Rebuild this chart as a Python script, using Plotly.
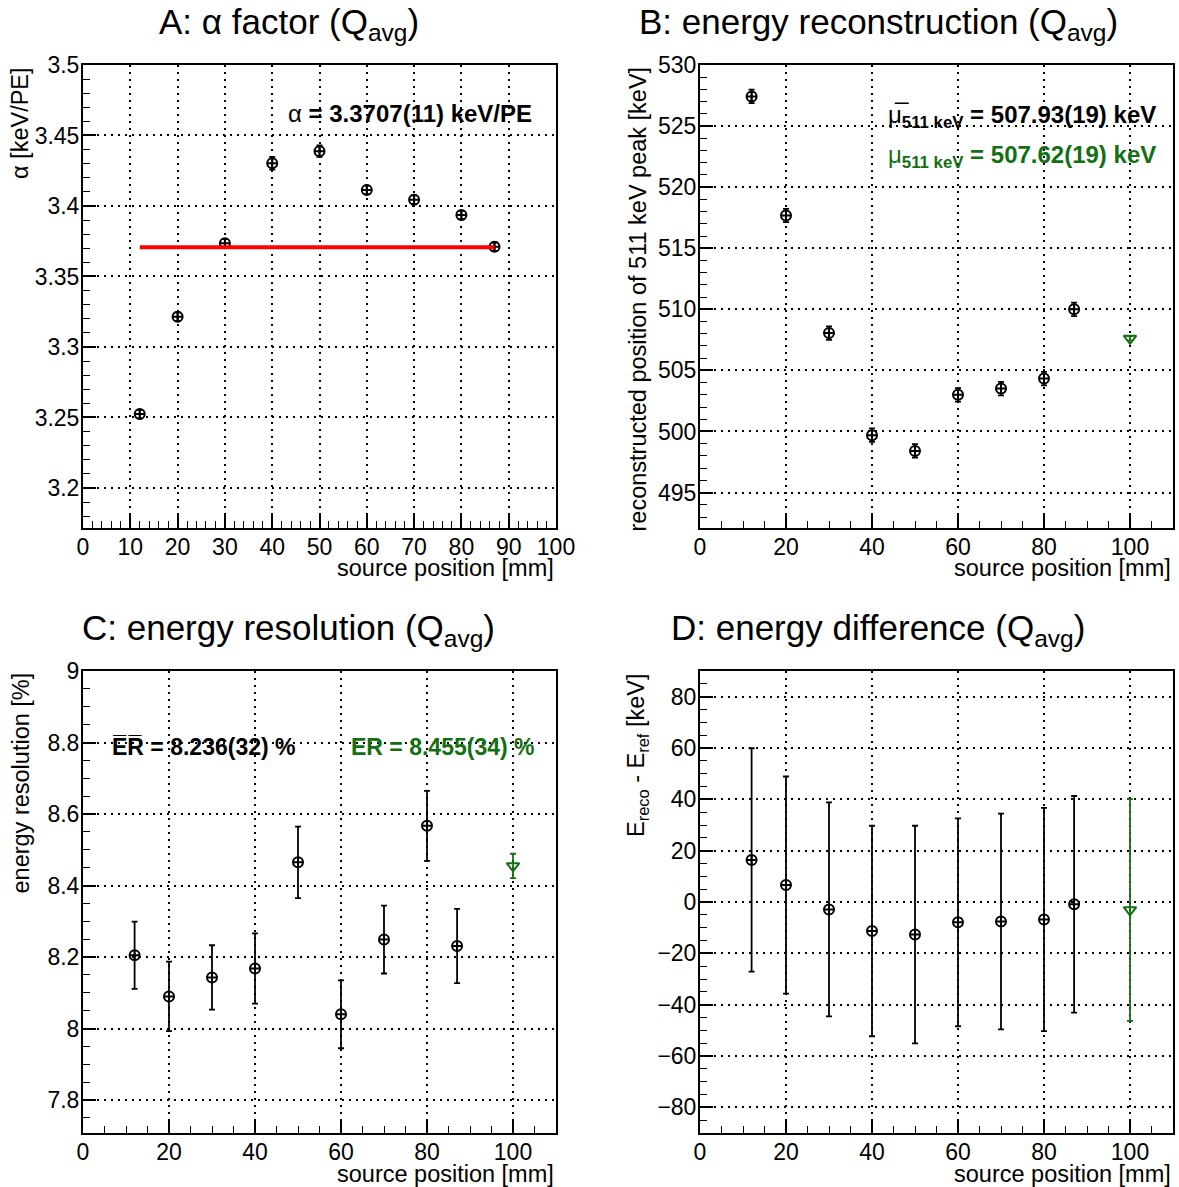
import plotly.graph_objects as go

# ---------------- data ----------------
pos = [12, 20, 30, 40, 50, 60, 70, 80, 87]

alpha = [3.2524, 3.3215, 3.3735, 3.4303, 3.4389, 3.4114, 3.4045, 3.3936, 3.3711]
alpha_err = [0.003, 0.003, 0.003, 0.0045, 0.004, 0.003, 0.003, 0.003, 0.003]
alpha_fit = 3.3707
fit_range = [12, 87]

peak = [527.43, 517.68, 508.06, 499.70, 498.41, 503.00, 503.51, 504.33, 510.00]
peak_err = [0.55, 0.55, 0.55, 0.55, 0.55, 0.55, 0.55, 0.55, 0.55]

ref_pos = [100]
peak_ref = [507.62]
peak_ref_err = [0.19]

res = [8.205, 8.090, 8.143, 8.168, 8.465, 8.040, 8.249, 8.567, 8.231]
res_err = [0.094, 0.097, 0.090, 0.098, 0.100, 0.095, 0.095, 0.098, 0.104]
res_ref = [8.455]
res_ref_err = [0.034]

diff = [16.4, 6.6, -2.9, -11.3, -12.7, -7.9, -7.6, -6.8, -0.9]
diff_err = [43.5, 42.3, 41.7, 41.0, 42.4, 40.5, 42.0, 43.5, 42.2]
diff_ref = [-3.1]
diff_ref_err = [43.2]

# ---------------- style ----------------
W, H = 1179, 1187
FONT = "Liberation Sans, Arial, Helvetica, sans-serif"
GREEN = "#127012"
BLACK = "#000000"


def px_x(p):
    return p / W


def px_y(p):
    return 1 - p / H


fig = go.Figure()


def data_trace(x, y, err, axis, color=BLACK, symbol="circle-cross-open", size=10):
    fig.add_trace(go.Scatter(
        x=x, y=y, mode="markers", xaxis="x" + axis, yaxis="y" + axis,
        marker=dict(symbol=symbol, size=size, color=color,
                    line=dict(color=color, width=2)),
        error_y=dict(type="data", array=err, visible=True, color=color,
                     thickness=1.8, width=3),
        showlegend=False, hoverinfo="x+y",
    ))


# A
data_trace(pos, alpha, alpha_err, "")
fig.add_trace(go.Scatter(x=fit_range, y=[alpha_fit, alpha_fit], mode="lines",
                         line=dict(color="#ff0000", width=4), showlegend=False,
                         xaxis="x", yaxis="y"))
# B
data_trace(pos, peak, peak_err, "2")
data_trace(ref_pos, peak_ref, peak_ref_err, "2", color=GREEN, symbol="triangle-down-open", size=11)
# C
data_trace(pos, res, res_err, "3")
data_trace(ref_pos, res_ref, res_ref_err, "3", color=GREEN, symbol="triangle-down-open", size=11)
# D
data_trace(pos, diff, diff_err, "4")
data_trace(ref_pos, diff_ref, diff_ref_err, "4", color=GREEN, symbol="triangle-down-open", size=11)

# domains
xl = [px_x(83), px_x(556)]
xr = [px_x(700), px_x(1173)]
yt = [px_y(528), px_y(65)]
yb = [px_y(1133), px_y(671)]


def xaxis(domain, anchor, rng, dtick, mdtick):
    return dict(domain=domain, anchor=anchor, range=rng, dtick=dtick, tick0=0,
                automargin=False, ticklabelstandoff=-3,
                showline=True, linecolor=BLACK, linewidth=2, mirror=True,
                ticks="inside", ticklen=13, tickwidth=1.5, tickcolor=BLACK,
                minor=dict(ticks="inside", ticklen=7, dtick=mdtick, tickwidth=1.2,
                           tickcolor=BLACK, showgrid=False),
                showgrid=True, gridcolor=BLACK, gridwidth=1.6, griddash="2px,5px",
                zeroline=False, tickfont=dict(family=FONT, size=23, color=BLACK),
                fixedrange=True)


def yaxis(domain, anchor, rng, dtick, tick0, mdtick):
    d = xaxis(domain, anchor, rng, dtick, mdtick)
    d["tick0"] = tick0
    return d


fig.update_layout(
    width=W, height=H,
    margin=dict(l=0, r=0, t=0, b=0, pad=0),
    paper_bgcolor="white", plot_bgcolor="white",
    font=dict(family=FONT, color=BLACK),
    xaxis=xaxis(xl, "y", [0, 100], 10, 2),
    yaxis=yaxis(yt, "x", [3.1716, 3.5], 0.05, 3.2, 0.01),
    xaxis2=xaxis(xr, "y2", [0, 110], 20, 5),
    yaxis2=yaxis(yt, "x2", [492.1, 530], 5, 495, 1),
    xaxis3=xaxis(xl, "y3", [0, 110], 20, 5),
    yaxis3=yaxis(yb, "x3", [7.708, 9], 0.2, 7.8, 0.05),
    xaxis4=xaxis(xr, "y4", [0, 110], 20, 5),
    yaxis4=yaxis(yb, "x4", [-90, 90], 20, 0, 5),
)

ann = []


def text(x, y, s, size=23, xa="center", ya="middle", color=BLACK, angle=0):
    ann.append(dict(x=x, y=y, xref="paper", yref="paper", text=s, showarrow=False,
                    xanchor=xa, yanchor=ya, textangle=angle,
                    font=dict(family=FONT, size=size, color=color)))


# titles
TS = 35
text(0.245, px_y(24), "A: α factor (Q<sub>avg</sub>)", size=TS)
text(0.745, px_y(24), "B: energy reconstruction (Q<sub>avg</sub>)", size=TS)
text(0.245, px_y(630), "C: energy resolution (Q<sub>avg</sub>)", size=TS)
text(0.745, px_y(630), "D: energy difference (Q<sub>avg</sub>)", size=TS)

# x titles
for xx, yy in [(556, 568), (1173, 568), (556, 1174), (1173, 1174)]:
    text(px_x(xx), px_y(yy), "source position [mm]", xa="right", size=23.5)

# y titles
text(px_x(20), px_y(65), "α [keV/PE]", xa="center", ya="top", angle=-90, size=23.5)
text(px_x(637), px_y(65), "reconstructed position of 511 keV peak [keV]", xa="center", ya="top", angle=-90, size=23.5)
text(px_x(20), px_y(671), "energy resolution [%]", xa="center", ya="top", angle=-90, size=23.5)
text(px_x(637), px_y(671), "E<sub>reco</sub> - E<sub>ref</sub> [keV]", xa="center", ya="top", angle=-90, size=23.5)

# in-panel labels
text(px_x(534), px_y(113), "α <b>= 3.3707(11) keV/PE</b>", xa="right", size=24)
text(px_x(886), px_y(116), "μ\u0305<sub><b>511 keV</b></sub> <b>= 507.93(19) keV</b>", xa="left", size=24)
text(px_x(886), px_y(157), "μ<sub><b>511 keV</b></sub> <b>= 507.62(19) keV</b>", xa="left", color=GREEN, size=24)
text(px_x(110), px_y(747), "<b>E\u0305R\u0305 = 8.236(32) %</b>", xa="left")
text(px_x(349), px_y(747), "<b>ER = 8.455(34) %</b>", xa="left", color=GREEN)

fig.update_layout(annotations=ann)

fig.write_html("out.html")
